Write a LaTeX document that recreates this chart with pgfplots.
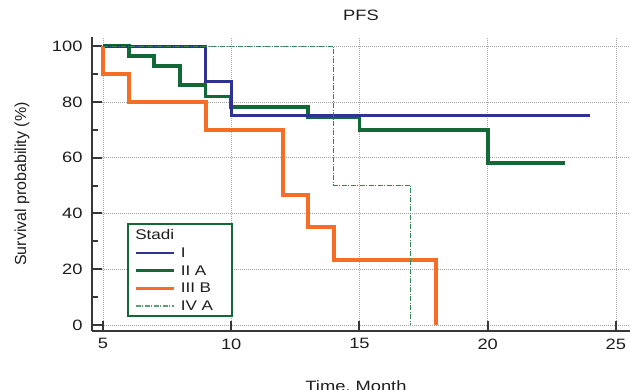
\documentclass[border=0pt]{standalone}
\usepackage{fontspec}
\setmainfont{Liberation Sans}[FakeStretch=1.22]
\newfontfamily\ylabfont{Liberation Sans}
\usepackage{pgfplots}
\pgfplotsset{compat=1.18}
\definecolor{cI}{RGB}{46,50,148}
\definecolor{cII}{RGB}{18,104,54}
\definecolor{cIII}{RGB}{246,110,38}
\definecolor{cIV}{RGB}{50,135,85}
\definecolor{txt}{RGB}{30,30,30}
\definecolor{spine}{RGB}{55,55,55}
\begin{document}
\begin{tikzpicture}
\begin{axis}[
  name=ax,
  scale only axis, width=538pt, height=294pt,
  xmin=4.57, xmax=25.55, ymin=-2.2, ymax=103.3,
  axis lines*=left,
  axis line style={spine, line width=2.5pt},
  xtick={5,10,15,20,25}, ytick={0,20,40,60,80,100},
  minor ytick={10,30,50,70,90},
  tick align=inside,
  major tick length=10pt, minor tick length=6pt,
  tick style={spine, line width=2pt},
  grid=major,
  major grid style={gray!70, line width=0.6pt, dash pattern=on 1pt off 1pt},
  tick label style={font=\fontsize{15}{18}\selectfont, text=txt},
  /pgf/number format/assume math mode=true,
  xticklabel style={yshift=-4pt},
  yticklabel style={xshift=-6pt},
  title={PFS},
  title style={font=\fontsize{15}{18}\selectfont, text=txt, at={(axis description cs:0.5,1)}, anchor=base, yshift=10pt},
  xlabel={Time, Month},
  xlabel style={font=\fontsize{15}{18}\selectfont, text=txt, at={(axis description cs:0.5,0)}, anchor=base, yshift=-61pt, xshift=-5pt},
  ylabel={Survival probability (\%)},
  ylabel style={font=\ylabfont\fontsize{16}{19}\selectfont, text=txt, at={(axis description cs:-0.130,0.5)}, anchor=center},
  legend cell align=left,
  legend image code/.code={\draw[#1] (0pt,0pt) -- (38pt,0pt);},
  legend style={at={(axis description cs:0.065,0.048)}, anchor=south west,
    draw=cII, line width=1.6pt, font=\fontsize{14}{16}\selectfont, text=txt,
    row sep=3.4pt, inner xsep=6pt, inner ysep=3pt,
    nodes={inner sep=1.5pt},
    /tikz/every odd column/.append style={column sep=4pt}},
]
\addlegendimage{legend image code/.code={\node[anchor=west, inner sep=0pt, text=txt] at (-1pt,0pt) {Stadi};}}
\addlegendentry{\strut}
\addlegendimage{color=cI, line width=2pt}
\addlegendentry{\makebox[44pt][l]{I}}
\addlegendimage{color=cII, line width=3pt}
\addlegendentry{II A}
\addlegendimage{color=cIII, line width=3.5pt}
\addlegendentry{III B}
\addlegendimage{color=cIV!80!white, line width=1.1pt, dash pattern=on 5pt off 1.5pt on 1pt off 1.5pt}
\addlegendentry{IV A}
\addplot[forget plot, const plot, color=cII, line width=3.7pt] coordinates {(5,100)(6,96.4)(7,93)(8,86)(9,82)(10,78.3)(13,74.4)(15,69.9)(20,58.2)(23,58.2)};
\addplot[forget plot, const plot, color=cI, line width=3pt] coordinates {(5,100)(9,87.5)(10,75)(24,75)};
\addplot[forget plot, const plot, color=cIII, line width=4pt] coordinates {(5,100)(5,90)(6,80)(9,70)(12,46.7)(13,35)(14,23.3)(18,0)};
\addplot[forget plot, const plot, color=cIV, line width=0.8pt, dash pattern=on 5pt off 1.5pt on 1pt off 1.5pt] coordinates {(5,100)(14,50)(17,0)};
\end{axis}
\pgfresetboundingbox
\path[use as bounding box] ([xshift=-92pt,yshift=-59pt]ax.south west) rectangle ++(630pt,390pt);
\end{tikzpicture}
\end{document}
